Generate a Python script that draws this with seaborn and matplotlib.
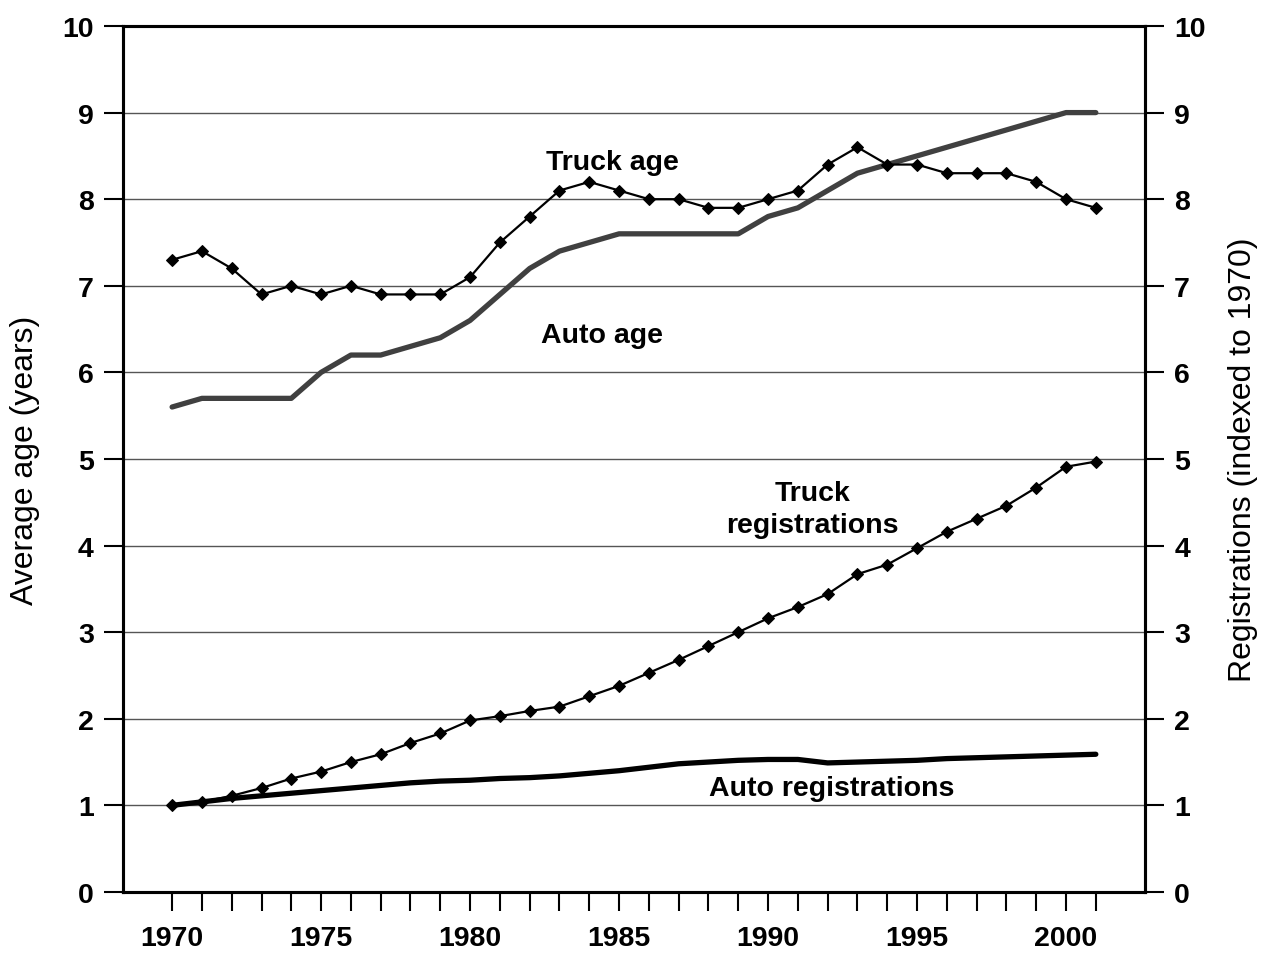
import seaborn as sns
import matplotlib.pyplot as plt
import numpy as np

years = list(range(1970, 2002))

truck_age = [7.3, 7.4, 7.2, 6.9, 7.0, 6.9, 7.0, 6.9, 6.9, 6.9,
             7.1, 7.5, 7.8, 8.1, 8.2, 8.1, 8.0, 8.0, 7.9, 7.9,
             8.0, 8.1, 8.4, 8.6, 8.4, 8.4, 8.3, 8.3, 8.3, 8.2,
             8.0, 7.9]
auto_age = [5.6, 5.7, 5.7, 5.7, 5.7, 6.0, 6.2, 6.2, 6.3, 6.4,
            6.6, 6.9, 7.2, 7.4, 7.5, 7.6, 7.6, 7.6, 7.6, 7.6,
            7.8, 7.9, 8.1, 8.3, 8.4, 8.5, 8.6, 8.7, 8.8, 8.9,
            9.0, 9.0]
truck_reg = [1.00, 1.04, 1.11, 1.20, 1.31, 1.39, 1.50, 1.59, 1.72, 1.83,
             1.98, 2.03, 2.09, 2.14, 2.26, 2.38, 2.53, 2.68, 2.84, 3.00,
             3.16, 3.29, 3.44, 3.67, 3.78, 3.97, 4.16, 4.31, 4.46, 4.67,
             4.91, 4.97]
auto_reg = [1.00, 1.04, 1.08, 1.11, 1.14, 1.17, 1.20, 1.23, 1.26, 1.28,
            1.29, 1.31, 1.32, 1.34, 1.37, 1.40, 1.44, 1.48, 1.50, 1.52,
            1.53, 1.53, 1.49, 1.50, 1.51, 1.52, 1.54, 1.55, 1.56, 1.57,
            1.58, 1.59]

tick_labels = [str(y) if y % 5 == 0 else "" for y in years]
y_ticks = list(range(0, 11))

sns.set_style("white")
plt.rcParams['font.family'] = ['Liberation Sans', 'DejaVu Sans']
plt.rcParams.update({"text.color": "black", "axes.labelcolor": "black",
                     "xtick.color": "black", "ytick.color": "black"})

fig = plt.figure(figsize=(12.61, 9.54), dpi=100)
ax = fig.add_axes([0.0975, 0.064, 0.8105, 0.9077])
ax2 = ax.twinx()

sns.lineplot(x=years, y=auto_age, ax=ax, color="#404040", linewidth=3.8)
sns.lineplot(x=years, y=truck_age, ax=ax, color="black", linewidth=1.6,
             marker="D", markersize=6, markeredgecolor="black")
sns.lineplot(x=years, y=auto_reg, ax=ax2, color="black", linewidth=3.8)
sns.lineplot(x=years, y=truck_reg, ax=ax2, color="black", linewidth=1.6,
             marker="D", markersize=6, markeredgecolor="black")

for a in (ax, ax2):
    a.set_xlim(1968.35, 2002.65)
    a.set_ylim(0, 10)
    a.set_yticks(y_ticks)
    a.set_yticklabels([str(t) for t in y_ticks], fontsize=20.5, fontweight="bold")
    for s in a.spines.values():
        s.set_linewidth(2.2)
        s.set_color("black")

ax.yaxis.grid(True, color="#555555", linewidth=1.0)
ax.set_axisbelow(True)
ax.set_xticks(years)
ax.set_xticklabels(tick_labels, fontsize=20.5, fontweight="bold")
ax.tick_params(axis="x", direction="out", length=14, width=1.5, pad=10, bottom=True)
ax.tick_params(axis="y", direction="out", length=14, width=1.5, pad=7, left=True)
ax2.tick_params(axis="y", direction="out", length=14, width=1.5, pad=7, right=True)

ax.set_ylabel("Average age (years)", fontsize=23)
ax.yaxis.set_label_coords(-0.081, 0.5)
ax2.set_ylabel("Registrations (indexed to 1970)", fontsize=23, rotation=90)
ax2.yaxis.set_label_coords(1.081, 0.5)

txt = dict(fontsize=20.5, fontweight="bold", ha="center", va="center")
ax.text(1984.77, 8.43, "Truck age", **txt)
ax.text(1984.43, 6.43, "Auto age", **txt)
ax2.text(1991.48, 4.42, "Truck\nregistrations", linespacing=1.3, **txt)
ax2.text(1992.15, 1.20, "Auto registrations", **txt)

fig.savefig("out.png", dpi=100)
